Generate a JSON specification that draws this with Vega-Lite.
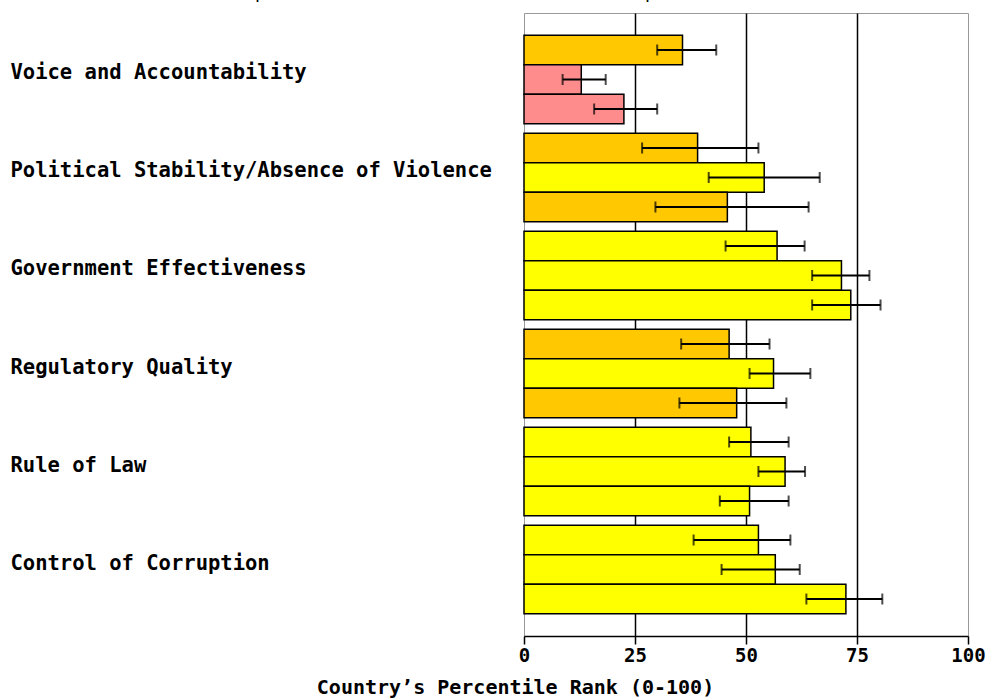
{
  "$schema": "https://vega.github.io/schema/vega-lite/v6.json",
  "width": 444,
  "height": 623,
  "autosize": {"type": "none"},
  "padding": {"left": 524, "top": 13, "right": 19, "bottom": 63},
  "background": "white",
  "title": {
    "text": "Comparison between 2011, 2006, 2001 (top-bottom order)",
    "font": "DejaVu Sans Mono",
    "fontSize": 18,
    "fontWeight": "normal",
    "color": "black",
    "offset": 11,
    "anchor": "middle",
    "dx": -231
  },
  "config": {
    "view": {"stroke": "#999", "strokeWidth": 1}
  },
  "data": {
    "values": [
      {"indicator": "Voice and Accountability", "year": "2011", "rank": 35.7, "lo": 30.0, "hi": 43.3},
      {"indicator": "Voice and Accountability", "year": "2006", "rank": 12.9, "lo": 8.7, "hi": 18.4},
      {"indicator": "Voice and Accountability", "year": "2001", "rank": 22.5, "lo": 15.8, "hi": 30.0},
      {"indicator": "Political Stability/Absence of Violence", "year": "2011", "rank": 39.1, "lo": 26.6, "hi": 52.8},
      {"indicator": "Political Stability/Absence of Violence", "year": "2006", "rank": 54.1, "lo": 41.6, "hi": 66.6},
      {"indicator": "Political Stability/Absence of Violence", "year": "2001", "rank": 45.8, "lo": 29.6, "hi": 64.1},
      {"indicator": "Government Effectiveness", "year": "2011", "rank": 57.0, "lo": 45.4, "hi": 63.2},
      {"indicator": "Government Effectiveness", "year": "2006", "rank": 71.5, "lo": 64.9, "hi": 77.8},
      {"indicator": "Government Effectiveness", "year": "2001", "rank": 73.6, "lo": 64.9, "hi": 80.3},
      {"indicator": "Regulatory Quality", "year": "2011", "rank": 46.2, "lo": 35.4, "hi": 55.3},
      {"indicator": "Regulatory Quality", "year": "2006", "rank": 56.2, "lo": 50.8, "hi": 64.5},
      {"indicator": "Regulatory Quality", "year": "2001", "rank": 47.9, "lo": 35.0, "hi": 59.1},
      {"indicator": "Rule of Law", "year": "2011", "rank": 51.1, "lo": 46.2, "hi": 59.6},
      {"indicator": "Rule of Law", "year": "2006", "rank": 58.8, "lo": 52.8, "hi": 63.3},
      {"indicator": "Rule of Law", "year": "2001", "rank": 50.8, "lo": 44.1, "hi": 59.6},
      {"indicator": "Control of Corruption", "year": "2011", "rank": 52.8, "lo": 38.2, "hi": 60.0},
      {"indicator": "Control of Corruption", "year": "2006", "rank": 56.6, "lo": 44.5, "hi": 62.1},
      {"indicator": "Control of Corruption", "year": "2001", "rank": 72.5, "lo": 63.6, "hi": 80.7}
    ]
  },
  "encoding": {
    "y": {
      "field": "indicator",
      "type": "nominal",
      "sort": ["Voice and Accountability", "Political Stability/Absence of Violence", "Government Effectiveness", "Regulatory Quality", "Rule of Law", "Control of Corruption"],
      "scale": {"paddingInner": 0.097, "paddingOuter": 0.227},
      "axis": {
        "title": null,
        "domain": false,
        "ticks": false,
        "tickSize": 0,
        "grid": false,
        "labelAlign": "left",
        "labelPadding": 514,
        "labelOffset": -6,
        "labelFont": "DejaVu Sans Mono",
        "labelFontWeight": "bold",
        "labelFontSize": 20.5,
        "labelColor": "black",
        "labelLimit": 0
      }
    },
    "yOffset": {
      "field": "year",
      "type": "nominal",
      "sort": ["2011", "2006", "2001"],
      "scale": {"paddingInner": 0, "paddingOuter": 0}
    }
  },
  "layer": [
    {
      "mark": {"type": "bar", "stroke": "black", "strokeWidth": 1.5},
      "encoding": {
        "x": {
          "field": "rank",
          "type": "quantitative",
          "scale": {"domain": [0, 100]},
          "axis": {
            "title": "Country’s Percentile Rank (0-100)",
            "values": [0, 25, 50, 75, 100],
            "grid": true,
            "gridColor": "black",
            "gridOpacity": {"condition": {"test": "datum.value == 0 || datum.value == 100", "value": 0}, "value": 1},
            "gridWidth": 1.5,
            "tickColor": "black",
            "tickSize": 8,
            "tickWidth": 1.5,
            "domainColor": "black",
            "domainWidth": 1.5,
            "labelFont": "DejaVu Sans Mono",
            "labelFontWeight": "bold",
            "labelFontSize": 19,
            "labelColor": "black",
            "labelPadding": 2,
            "labelFlush": false,
            "titleFont": "DejaVu Sans Mono",
            "titleFontWeight": "bold",
            "titleFontSize": 20,
            "titleColor": "black",
            "titleX": -9,
            "titleY": 51,
            "titleAlign": "center",
            "titleBaseline": "middle"
          }
        },
        "color": {
          "field": "rank",
          "type": "quantitative",
          "scale": {"type": "threshold", "domain": [10, 25, 50, 75], "range": ["#FF0000", "#FF8C8C", "#FFC800", "#FFFF00", "#00C800"]},
          "legend": null
        }
      }
    },
    {
      "mark": {"type": "rule", "color": "black", "strokeWidth": 2},
      "encoding": {
        "x": {"field": "lo", "type": "quantitative"},
        "x2": {"field": "hi"}
      }
    },
    {
      "mark": {"type": "tick", "color": "black", "thickness": 2, "size": 11},
      "encoding": {
        "x": {"field": "lo", "type": "quantitative"}
      }
    },
    {
      "mark": {"type": "tick", "color": "black", "thickness": 2, "size": 11},
      "encoding": {
        "x": {"field": "hi", "type": "quantitative"}
      }
    }
  ]
}
